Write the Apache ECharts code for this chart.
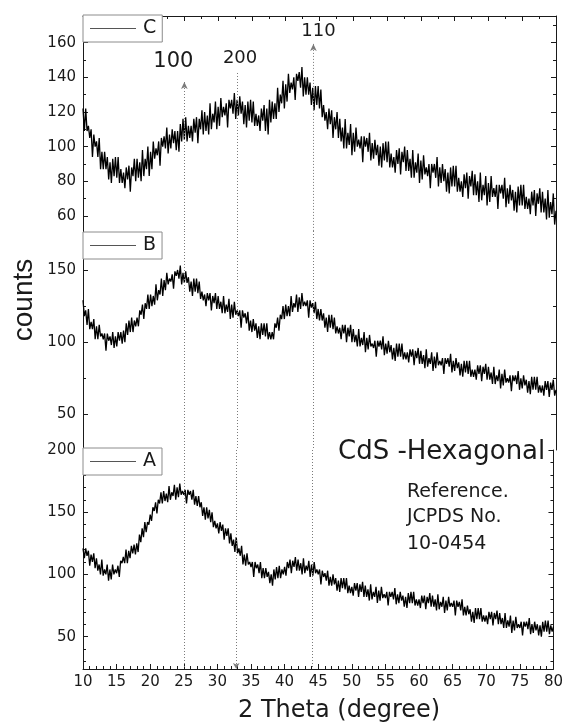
<!DOCTYPE html>
<html>
<head>
<meta charset="utf-8">
<script src="https://cdn.jsdelivr.net/npm/echarts@6/dist/echarts.min.js"></script>
<style>
html,body{margin:0;padding:0;background:#fff;}
#chart{width:566px;height:726px;}
</style>
</head>
<body>
<div id="chart"></div>
<script>
// ---- data (hand-read counts, 2 theta from 10 to 80 in 0.2 degree steps) ----
const xStart = 10, xStep = 0.2;
const countsC = [
 122,109,122,109,112, 105,110,94,107,100, 103,94,105,87,97, 87,97,87,94,81, 91,79,93,83,94,
 82,94,79,87,79, 85,76,88,81,89, 74,88,83,93,80, 93,82,91,80,98, 83,93,87,100,83,
 97,87,103,93,99, 95,103,89,105,100, 106,99,111,96,107, 99,110,102,109,98, 109,97,113,103,116,
 104,117,103,112,105, 112,103,116,108,117, 102,116,110,121,107, 120,109,118,107,125, 110,119,114,126,110,
 123,112,128,117,123, 118,125,111,127,122, 127,119,131,116,127, 118,129,119,126,113, 124,111,126,115,127,
 114,126,112,119,112, 118,109,122,115,124, 109,122,107,127,114, 126,116,125,116,134, 120,130,125,138,122,
 136,126,142,131,137, 133,140,127,142,138, 143,134,146,129,140, 130,140,130,137,124, 134,121,135,124,135,
 122,133,117,124,115, 120,110,122,113,121, 105,117,110,120,105, 116,103,111,99,116, 99,108,101,113,95,
 108,97,111,100,104, 99,106,91,106,100, 105,97,108,92,102, 93,104,95,101,89, 100,88,102,92,103,
 91,103,88,96,88, 94,85,98,90,99, 84,97,91,100,86, 98,86,93,82,98, 82,91,85,96,79,
 92,81,95,84,88, 83,90,76,90,85, 90,82,94,77,88, 79,90,80,87,74, 85,73,88,77,89,
 77,89,74,82,74, 80,71,84,76,85, 70,83,77,86,72, 84,72,80,68,85, 69,78,72,83,66,
 79,68,83,71,76, 71,78,64,78,73, 78,70,82,65,76, 67,78,69,75,63, 74,62,77,66,78,
 66,78,64,71,64, 70,61,74,66,75, 60,73,67,76,62, 74,62,70,58,75, 59,68,61,73,55,
 63];
const countsB = [
 129,118,122,112,123, 109,114,109,116,102, 111,102,112,104,106, 102,106,94,106,101, 104,98,107,96,104,
 97,107,101,107,99, 108,100,113,105,115, 107,117,107,115,111, 117,111,122,119,126, 116,127,123,133,123,
 133,125,132,126,140, 129,136,133,144,132, 143,136,148,140,144, 142,147,137,149,146, 150,144,153,140,148,
 141,149,141,145,135, 142,132,144,135,144, 134,142,130,135,129, 133,125,134,129,134, 122,132,127,134,123,
 132,123,128,120,132, 120,126,121,130,116, 126,117,128,119,122, 118,122,110,122,117, 120,113,121,108,115,
 107,116,108,113,103, 111,102,113,105,113, 104,113,102,107,102, 107,102,113,110,117, 108,119,116,125,116,
 126,118,125,118,132, 121,127,124,133,121, 131,123,134,125,128, 125,129,117,129,124, 127,120,128,116,123,
 115,123,115,120,110, 117,107,119,110,119, 109,117,106,111,106, 110,102,112,106,112, 100,110,104,112,100,
 109,100,105,97,109, 97,103,98,107,93, 103,95,105,97,99, 96,101,90,101,97, 101,95,104,91,99,
 92,101,93,98,88, 96,87,99,90,99, 90,99,88,93,88, 93,86,95,90,95, 84,94,89,96,85,
 94,85,91,82,95, 83,89,85,93,80, 90,82,93,84,87, 84,89,78,89,85, 89,83,92,79,87,
 80,89,82,86,77, 85,76,87,79,87, 78,87,76,81,76, 81,74,84,78,84, 73,83,78,85,74,
 83,74,79,71,83, 71,77,73,81,68, 78,70,81,72,75, 72,77,66,77,73, 77,71,80,67,75,
 68,77,70,74,65, 73,64,76,67,76, 67,76,65,70,65, 70,63,73,67,73, 62,72,67,74,63,
 67];
const countsA = [
 121,113,121,115,119, 107,116,110,117,105, 113,103,108,100,112, 99,104,100,108,95, 104,96,108,100,104,
 101,107,98,111,109, 114,109,120,109,119, 113,123,117,124,116, 125,118,132,126,137, 130,142,134,142,140,
 148,143,154,151,158, 149,160,157,166,157, 167,159,165,158,171, 160,166,163,172,160, 170,162,173,164,167,
 164,168,157,168,164, 167,160,168,156,163, 155,163,154,158,147, 154,144,154,145,152, 142,150,138,143,137,
 141,133,142,135,140, 128,137,131,137,125, 133,123,128,118,130, 117,121,115,123,108, 116,107,117,108,110,
 106,110,98,110,105, 108,101,110,97,105, 97,105,98,102,93, 100,91,104,96,106, 97,107,97,104,100,
 106,99,110,105,112, 101,111,106,114,103, 112,103,109,100,113, 101,107,103,111,98, 108,99,110,101,104,
 100,104,92,103,98, 101,95,103,91,98, 91,100,92,97,87, 95,86,97,89,97, 88,97,85,91,85,
 90,83,93,87,93, 82,92,86,94,82, 91,82,88,79,92, 80,86,82,90,77, 87,79,90,81,84,
 81,86,75,86,82, 86,80,89,76,84, 77,86,79,83,74, 82,73,85,77,86, 77,86,75,80,75,
 80,73,83,77,83, 72,82,77,85,74, 83,74,80,71,84, 72,78,74,82,69, 79,71,82,74,77,
 74,79,67,79,74, 78,71,80,67,74, 67,75,68,72,62, 70,61,73,64,73, 64,73,62,67,62,
 67,60,70,64,70, 59,69,64,71,60, 69,60,65,57,69, 57,63,58,67,53, 63,55,66,57,60,
 57,62,51,62,58, 62,56,65,52,60, 53,62,55,60,51, 59,50,62,54,63, 54,63,52,59,54,
 58];
const seriesNames = ['C', 'B', 'A'];
const yRangeC = [51.3, 175.4], yRangeB = [25.3, 177], yRangeA = [24, 200];
const yMajorC = [60, 80, 100, 120, 140, 160], yMinorC = [70, 90, 110, 130, 150, 170];
const yMajorB = [50, 100, 150], yMinorB = [75, 125];
const yMajorA = [50, 100, 150, 200], yMinorA = [30, 40, 60, 70, 80, 90, 110, 120, 130, 140, 160, 170, 180, 190];
const xRange = [10, 80], xInterval = 5;
const peakPos = [25, 32.8, 44.1];
const peakLabels = ['100', '200', '110'];
const peakTopC = [137.3, 142.5, 159.3];       // where each reference line starts in panel C
const peakLabelY = [149, 151.2, 166.3];

// ---- build ----
const FONT = '"DejaVu Sans", sans-serif';
const INK = '#1a1a1a';
const pairs = arr => arr.map((v, i) => [+(xStart + i * xStep).toFixed(2), v]);

const grids = [
  {left: 83, top: 16, width: 473, height: 215},
  {left: 83, top: 231, width: 473, height: 219},
  {left: 83, top: 450, width: 473, height: 219}
];

function yAxesFor(g, range, major, minor) {
  const base = {type: 'value', gridIndex: g, min: range[0], max: range[1], splitLine: {show: false}};
  const line = {show: true, onZero: false, lineStyle: {color: INK, width: 1}};
  const mk = (pos, vals, len, lbl, showLine) => Object.assign({}, base, {
    position: pos,
    axisLine: showLine ? line : {show: false},
    axisTick: {show: true, inside: true, length: len, customValues: vals, lineStyle: {color: INK, width: 1}},
    axisLabel: lbl ? {show: true, customValues: vals, margin: 7, fontSize: 15, fontFamily: FONT, color: INK} : {show: false}
  });
  return [
    mk('left', major, 5, true, true),
    mk('left', minor, 3, false, false),
    mk('right', major, 5, false, true),
    mk('right', minor, 3, false, false)
  ];
}

const yAxis = [].concat(
  yAxesFor(0, yRangeC, yMajorC, yMinorC),
  yAxesFor(1, yRangeB, yMajorB, yMinorB),
  yAxesFor(2, yRangeA, yMajorA, yMinorA)
);

const xAxis = [
  {type: 'value', gridIndex: 0, position: 'top', min: xRange[0], max: xRange[1], interval: xInterval,
   axisLine: {show: true, onZero: false, lineStyle: {color: INK}},
   axisTick: {inside: true, length: 5, lineStyle: {color: INK}},
   minorTick: {show: true, splitNumber: 2, length: 3, lineStyle: {color: INK}},
   axisLabel: {show: false}, splitLine: {show: false}},
  {type: 'value', gridIndex: 1, min: xRange[0], max: xRange[1], show: false},
  {type: 'value', gridIndex: 2, position: 'bottom', min: xRange[0], max: xRange[1], interval: xInterval,
   axisLine: {show: true, onZero: false, lineStyle: {color: INK}},
   axisTick: {inside: true, length: 5, lineStyle: {color: INK}},
   minorTick: {show: true, splitNumber: 5, length: 3, lineStyle: {color: INK}},
   axisLabel: {show: true, margin: 6, fontSize: 15, fontFamily: FONT, color: INK},
   splitLine: {show: false}}
];

const dotted = {color: '#7a7a7a', width: 1, type: [1, 2]};

const markC = {
  silent: true, animation: false, lineStyle: dotted, label: {show: false},
  data: peakPos.map((p, i) => [
    {coord: [p, peakTopC[i]], symbol: i === 1 ? 'none' : 'arrow', symbolSize: [5, 7]},
    {coord: [p, yRangeC[0]], symbol: 'none'}
  ])
};
const markB = {
  silent: true, animation: false, lineStyle: dotted, label: {show: false}, symbol: 'none',
  data: peakPos.map(p => [{coord: [p, yRangeB[1]]}, {coord: [p, yRangeB[0]]}])
};
const markA = {
  silent: true, animation: false, lineStyle: dotted, label: {show: false},
  data: peakPos.map((p, i) => [
    {coord: [p, yRangeA[1]], symbol: 'none'},
    {coord: [p, yRangeA[0]], symbol: i === 1 ? 'arrow' : 'none', symbolSize: [5, 6]}
  ])
};
const labelOffsets = [[-11, 0], [3, 0], [5, 0]];
const labelSizes = [21, 18, 18];
const peakMarks = {
  silent: true, animation: false,
  data: peakPos.map((p, i) => ({
    coord: [p, peakLabelY[i]], symbol: 'circle', symbolSize: 1,
    itemStyle: {color: 'rgba(0,0,0,0)'},
    label: {show: true, position: 'inside', offset: labelOffsets[i], formatter: peakLabels[i],
            fontSize: labelSizes[i], fontFamily: FONT, color: INK}
  }))
};

const lineBase = {type: 'line', symbol: 'none', showSymbol: false, animation: false,
  lineStyle: {color: '#000', width: 1.3}, itemStyle: {color: '#000'}};
const series = [
  Object.assign({}, lineBase, {name: seriesNames[0], xAxisIndex: 0, yAxisIndex: 0, data: pairs(countsC), markLine: markC, markPoint: peakMarks}),
  Object.assign({}, lineBase, {name: seriesNames[1], xAxisIndex: 1, yAxisIndex: 4, data: pairs(countsB), markLine: markB}),
  Object.assign({}, lineBase, {name: seriesNames[2], xAxisIndex: 2, yAxisIndex: 8, data: pairs(countsA), markLine: markA})
];

const legendTops = [15, 232, 448];
const legend = seriesNames.map((n, i) => ({
  data: [{name: n, icon: 'rect'}], left: 83, top: legendTops[i], orient: 'horizontal',
  selectedMode: false, backgroundColor: '#fff',
  borderColor: '#8c8c8c', borderWidth: 1, padding: [4, 6, 4, 7],
  itemWidth: 46, itemHeight: 1, itemGap: 0,
  itemStyle: {color: '#555', borderWidth: 0},
  lineStyle: {color: '#555', width: 1},
  textStyle: {fontSize: 19, fontFamily: FONT, color: INK, lineHeight: 19, padding: [0, 0, 0, 2]}
}));

const graphic = [
  {type: 'text', left: 338, top: 439, style: {text: 'CdS -Hexagonal', font: '26px "DejaVu Sans"', fill: INK}},
  {type: 'text', left: 407, top: 483, style: {text: 'Reference.', font: '19px "DejaVu Sans"', fill: INK}},
  {type: 'text', left: 407, top: 508, style: {text: 'JCPDS No.', font: '19px "DejaVu Sans"', fill: INK}},
  {type: 'text', left: 407, top: 535, style: {text: '10-0454', font: '19px "DejaVu Sans"', fill: INK}},
  {type: 'text', left: 238, top: 699, style: {text: '2 Theta (degree)', font: '24px "DejaVu Sans"', fill: INK}},
  {type: 'text', x: 24, y: 300, rotation: Math.PI / 2,
   style: {text: 'counts', font: '28px "Liberation Sans"', fill: INK, align: 'center', verticalAlign: 'middle'}}
];

const chart = echarts.init(document.getElementById('chart'), null, {renderer: 'canvas'});
chart.setOption({
  backgroundColor: '#fff',
  animation: false,
  grid: grids,
  xAxis: xAxis,
  yAxis: yAxis,
  legend: legend,
  series: series,
  graphic: graphic
});
</script>
</body>
</html>
